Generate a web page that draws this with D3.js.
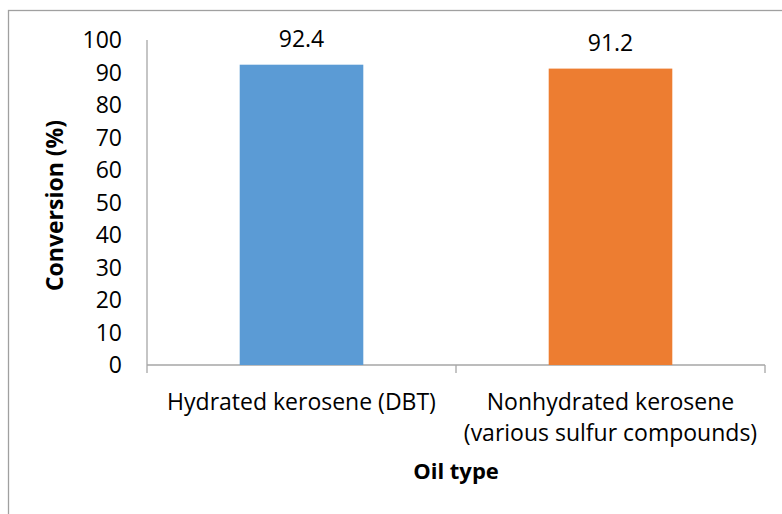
<!DOCTYPE html>
<html>
<head>
<meta charset="utf-8">
<script src="https://cdn.jsdelivr.net/npm/d3@7"></script>
<style>
  html, body { margin: 0; padding: 0; background: #fff; }
  svg { display: block; }
  text { font-family: "Open Sans", "Noto Sans", sans-serif; fill: #000; }
</style>
</head>
<body>
<svg id="chart" width="782" height="514"></svg>
<script>
const categories = [["Hydrated kerosene (DBT)"], ["Nonhydrated kerosene", "(various sulfur compounds)"]];
const values = [92.4, 91.2];
const colors = ["#5b9bd5", "#ed7d31"];
const yTicks = [0, 10, 20, 30, 40, 50, 60, 70, 80, 90, 100];
const yTitle = "Conversion (%)";
const xTitle = "Oil type";

(function () {
const svg = d3.select("#chart");
const mLeft = 147, mRight = 765, mTop = 40, mBottom = 365;
const fs = 23;

// outer frame
svg.append("rect")
  .attr("x", 8.5).attr("y", 10.5)
  .attr("width", 900).attr("height", 700)
  .attr("fill", "none").attr("stroke", "#a0a0a0").attr("stroke-width", 1.3);

const x = d3.scaleBand()
  .domain(d3.range(values.length))
  .range([mLeft, mRight])
  .paddingInner(0.6).paddingOuter(0.3);

const y = d3.scaleLinear().domain([0, 100]).range([mBottom, mTop]);

const axisColor = "#a6a6a6";

// y axis line (extends down to tick length)
svg.append("line")
  .attr("x1", mLeft).attr("x2", mLeft)
  .attr("y1", y(100)).attr("y2", mBottom + 8)
  .attr("stroke", axisColor).attr("stroke-width", 1.3);

// y tick labels
svg.append("g").selectAll("text")
  .data(yTicks).join("text")
  .attr("x", mLeft - 25)
  .attr("y", d => y(d))
  .attr("dy", "0.35em")
  .attr("text-anchor", "end")
  .attr("font-size", fs)
  .text(d => d);

// x axis line
svg.append("line")
  .attr("x1", mLeft).attr("x2", mRight)
  .attr("y1", mBottom).attr("y2", mBottom)
  .attr("stroke", axisColor).attr("stroke-width", 1.3);

// x tick marks at category boundaries
const boundaries = d3.range(values.length + 1).map(i => mLeft + i * x.step());
svg.append("g").selectAll("line")
  .data(boundaries.slice(1)).join("line")
  .attr("x1", d => d).attr("x2", d => d)
  .attr("y1", mBottom).attr("y2", mBottom + 8)
  .attr("stroke", axisColor).attr("stroke-width", 1.3);

// bars
svg.append("g").selectAll("rect")
  .data(values).join("rect")
  .attr("x", (d, i) => x(i))
  .attr("width", x.bandwidth())
  .attr("y", d => y(d))
  .attr("height", d => y(0) - y(d))
  .attr("fill", (d, i) => colors[i]);

// value labels
svg.append("g").selectAll("text")
  .data(values).join("text")
  .attr("x", (d, i) => x(i) + x.bandwidth() / 2)
  .attr("y", d => y(d) - 18)
  .attr("text-anchor", "middle")
  .attr("font-size", fs)
  .text(d => d.toFixed(1));

// category labels
const catG = svg.append("g");
categories.forEach((lines, i) => {
  const cx = mLeft + (i + 0.5) * x.step();
  const t = catG.append("text")
    .attr("x", cx).attr("y", 410)
    .attr("text-anchor", "middle")
    .attr("font-size", fs);
  lines.forEach((ln, j) => {
    t.append("tspan").attr("x", cx).attr("dy", j === 0 ? 0 : 31).text(ln);
  });
});

// axis titles
svg.append("text")
  .attr("x", (mLeft + mRight) / 2).attr("y", 479)
  .attr("text-anchor", "middle")
  .attr("font-size", 22).attr("font-weight", "bold")
  .text(xTitle);

svg.append("text")
  .attr("transform", `translate(63, ${(mTop + mBottom) / 2 + 3}) rotate(-90)`)
  .attr("text-anchor", "middle")
  .attr("font-size", fs).attr("font-weight", "bold")
  .text(yTitle);
})();
</script>
</body>
</html>
